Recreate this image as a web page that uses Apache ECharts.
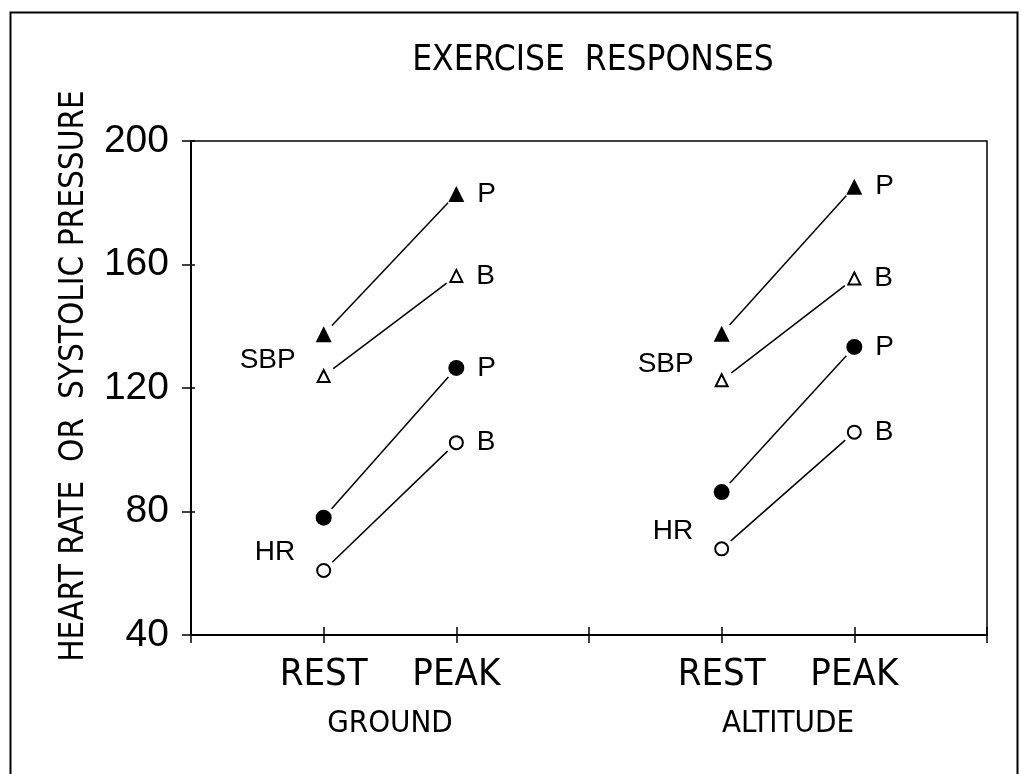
<!DOCTYPE html>
<html>
<head>
<meta charset="utf-8">
<script src="https://cdn.jsdelivr.net/npm/echarts@6/dist/echarts.min.js"></script>
<style>
  html, body { margin: 0; padding: 0; background: #fff; }
  #chart { width: 1021px; height: 774px; }
</style>
</head>
<body>
<div id="chart"></div>
<script>
// x positions: REST/PEAK for each condition, condition labels under the middle
const groups = ['GROUND', 'ALTITUDE']
const phaseLabels = ['', 'REST', 'PEAK', '', 'REST', 'PEAK', '']
const groupLabels = {1.5: 'GROUND', 4.5: 'ALTITUDE'}

// [rest, peak] per group
const sbpP = [[137.4, 182.8], [137.6, 185.2]]
const sbpB = [[123.9, 156.3], [122.5, 155.5]]
const hrP = [[78.0, 126.5], [86.3, 133.3]]
const hrB = [[60.9, 102.3], [67.9, 105.7]]

const narrow = '"Liberation Sans Narrow", "DejaVu Sans Condensed", "Liberation Sans", sans-serif'
const plain = '"Liberation Sans", Arial, sans-serif'

function pts(vals, g) {
  return [[1 + g * 3, vals[g][0]], [2 + g * 3, vals[g][1]]]
}

// each measure is drawn as: line, white halo (leaves a gap at the ends), marker
function addSeries(list, vals, g, symbol, size, filled, peakText, restText, restOffset) {
  const p = pts(vals, g)
  list.push({
    type: 'line', data: p, symbol: 'none',
    lineStyle: {color: '#000', width: 1.5},
    emphasis: {disabled: true}, silent: true, z: 2
  })
  list.push({
    type: 'line', data: p, symbol: 'circle', symbolSize: 24, showAllSymbol: true,
    lineStyle: {opacity: 0},
    itemStyle: {color: '#fff', borderWidth: 0},
    emphasis: {disabled: true}, silent: true, z: 3
  })
  const data = p.map((pt, i) => {
    const item = {value: pt}
    if (i === 1) {
      item.label = {show: true, position: 'right', distance: 13, formatter: peakText}
    } else if (restText) {
      item.label = {show: true, position: 'left', distance: 21, offset: [0, restOffset], formatter: restText}
    }
    return item
  })
  list.push({
    type: 'line', data: data, symbol: symbol, symbolSize: size, showAllSymbol: true,
    lineStyle: {opacity: 0},
    itemStyle: {
      color: filled ? '#000' : '#fff',
      borderColor: '#000',
      borderWidth: filled ? 0 : 2
    },
    label: {color: '#000', fontFamily: plain, fontSize: 28},
    emphasis: {disabled: true}, z: 4
  })
}

const series = []
groups.forEach((name, g) => {
  addSeries(series, sbpP, g, 'triangle', 16, true, 'P')
  addSeries(series, sbpB, g, 'triangle', 12, false, 'B', 'SBP', -16)
  addSeries(series, hrP, g, 'circle', 16, true, 'P')
  addSeries(series, hrB, g, 'circle', 13, false, 'B', 'HR', -18)
})

const chart = echarts.init(document.getElementById('chart'), null, {renderer: 'canvas'})
chart.setOption({
  backgroundColor: '#fff',
  animation: false,
  title: {
    text: 'EXERCISE  RESPONSES',
    left: 588,
    textAlign: 'center',
    top: 38,
    textStyle: {fontFamily: narrow, fontSize: 35, fontWeight: 'normal', color: '#000'}
  },
  graphic: [{
    type: 'rect',
    left: 8, top: 10,
    shape: {width: 1007, height: 800},
    style: {fill: 'none', stroke: '#000', lineWidth: 2},
    silent: true
  }],
  grid: {
    left: 191, top: 141, right: 34, bottom: 139,
    show: true, borderColor: '#000', borderWidth: 1.5, backgroundColor: 'transparent'
  },
  xAxis: [{
    type: 'value', min: 0, max: 6, interval: 1,
    axisLine: {lineStyle: {color: '#000', width: 2}},
    axisTick: {length: 8, lineStyle: {color: '#000', width: 1.5}},
    splitLine: {show: false},
    axisLabel: {
      margin: 21, color: '#000', fontFamily: narrow, fontSize: 38,
      formatter: v => phaseLabels[v] || ''
    }
  }, {
    type: 'value', min: 0, max: 6, interval: 1.5, position: 'bottom',
    axisLine: {show: false}, axisTick: {show: false}, splitLine: {show: false},
    axisLabel: {
      margin: 73, color: '#000', fontFamily: narrow, fontSize: 31,
      formatter: v => groupLabels[v] || ''
    }
  }, {
    type: 'value', min: 0, max: 6, interval: 1, position: 'bottom',
    axisLine: {show: false}, splitLine: {show: false}, axisLabel: {show: false},
    axisTick: {inside: true, length: 8, lineStyle: {color: '#000', width: 1.5}}
  }],
  yAxis: [{
    type: 'value', min: 40, max: 200, interval: 40,
    name: 'HEART RATE  OR  SYSTOLIC PRESSURE',
    nameLocation: 'middle', nameGap: 100,
    nameTextStyle: {fontFamily: narrow, fontSize: 33, color: '#000', padding: [0, 0, 0, 24]},
    axisLine: {lineStyle: {color: '#000', width: 2}},
    axisTick: {length: 9, lineStyle: {color: '#000', width: 1.5}},
    splitLine: {show: false},
    axisLabel: {margin: 22, color: '#000', fontFamily: plain, fontSize: 39}
  }, {
    type: 'value', min: 40, max: 200, interval: 40, position: 'left',
    axisLine: {show: false}, splitLine: {show: false}, axisLabel: {show: false},
    axisTick: {inside: true, length: 4, lineStyle: {color: '#000', width: 1.5}}
  }],
  series: series
})
</script>
</body>
</html>
